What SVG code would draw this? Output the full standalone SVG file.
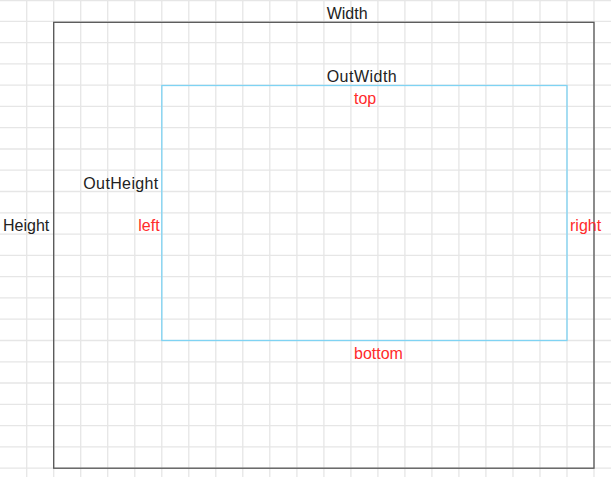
<svg xmlns="http://www.w3.org/2000/svg" width="611" height="477" viewBox="0 0 611 477">
<style>
.grid{stroke:#e6e6e6;stroke-width:1.3;fill:none}
.outer{stroke:#555;stroke-width:1.3;fill:none}
.inner{stroke:#7fd3f3;stroke-width:1.3;fill:none}
text{font-family:"Liberation Sans",Arial,sans-serif;font-size:16px}
.lbl{fill:#222}
.red{fill:#ff2b2b}
</style>
<rect width="611" height="477" fill="#fff"/>
<path class="grid" d="M26.7 0V477M53.7 0V477M80.7 0V477M107.7 0V477M134.8 0V477M161.8 0V477M188.8 0V477M215.8 0V477M242.8 0V477M269.8 0V477M296.9 0V477M323.9 0V477M350.9 0V477M377.9 0V477M404.9 0V477M431.9 0V477M458.9 0V477M485.9 0V477M513 0V477M540 0V477M567 0V477M594 0V477
M0 0.6H611M0 21.3H611M0 42.6H611M0 63.8H611M0 85.1H611M0 106.4H611M0 127.7H611M0 149H611M0 170.2H611M0 191.5H611M0 212.8H611M0 234.1H611M0 255.4H611M0 276.6H611M0 297.9H611M0 319.2H611M0 340.5H611M0 361.8H611M0 383H611M0 404.3H611M0 425.6H611M0 446.9H611M0 468.2H611"/>
<g id="outer-frame">
<rect class="outer" x="53.7" y="22.3" width="540.3" height="445.9"/>
<text class="lbl" x="326.7" y="18.5">Width</text>
<text class="lbl" x="3" y="231">Height</text>
</g>
<g id="inner-frame">
<rect class="inner" x="161.8" y="85.5" width="405.2" height="255"/>
<text class="lbl" x="326.7" y="81.8" textLength="70">OutWidth</text>
<text class="lbl" x="83.3" y="189" textLength="75">OutHeight</text>
<text class="red" x="354" y="104">top</text>
<text class="red" x="138.3" y="231">left</text>
<text class="red" x="570" y="231">right</text>
<text class="red" x="354" y="358.5">bottom</text>
</g>
<g id="connectors"/>
</svg>
